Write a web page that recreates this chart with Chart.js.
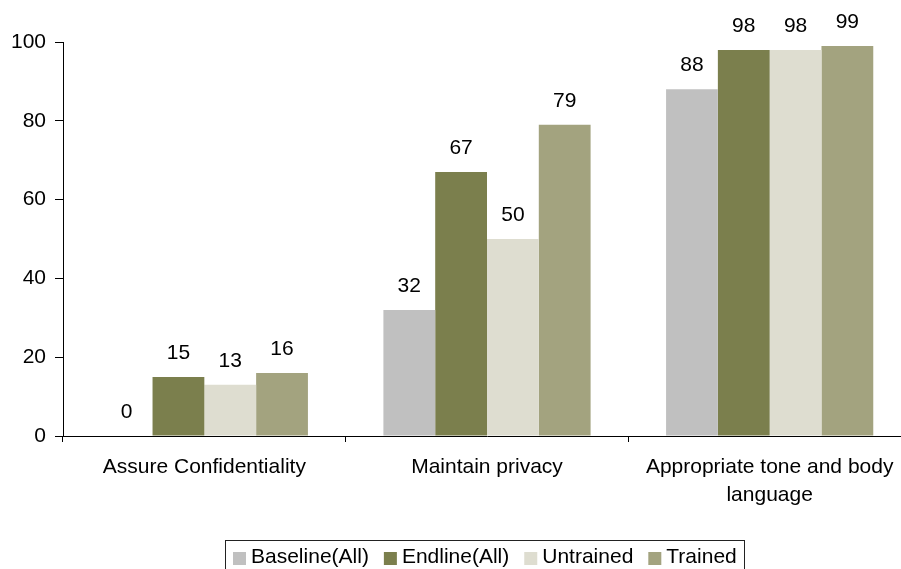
<!DOCTYPE html>
<html>
<head>
<meta charset="utf-8">
<script src="https://cdn.jsdelivr.net/npm/chart.js@4/dist/chart.umd.min.js"></script>
<style>
  html, body { margin: 0; padding: 0; background: #fff; overflow: hidden; }
  #wrap { width: 901px; height: 569px; overflow: hidden; }
</style>
</head>
<body>
<div id="wrap"><canvas id="myChart" width="911" height="569"></canvas></div>
<script>
// --- Data ---
const categories = [
    'Assure Confidentiality',
    'Maintain privacy',
    ['Appropriate tone and body', 'language']
];
const seriesNames = ['Baseline(All)', 'Endline(All)', 'Untrained', 'Trained'];
const baselineAll = [0, 32, 88];
const endlineAll = [15, 67, 98];
const untrained = [13, 50, 98];
const trained = [16, 79, 99];
const yTicks = [0, 20, 40, 60, 80, 100];

const seriesColors = ['#C0C0C0', '#7B7F4D', '#DEDDD0', '#A3A37F'];
const fontFamily = '"Liberation Sans", Arial, sans-serif';

// value labels above each bar
const valueLabels = {
    id: 'valueLabels',
    afterDatasetsDraw(chart) {
        const ctx = chart.ctx;
        ctx.save();
        ctx.font = '21px ' + fontFamily;
        ctx.fillStyle = '#000';
        ctx.textAlign = 'center';
        ctx.textBaseline = 'middle';
        chart.data.datasets.forEach((ds, i) => {
            chart.getDatasetMeta(i).data.forEach((bar, j) => {
                ctx.fillText(String(ds.data[j]), bar.x, bar.y - 24);
            });
        });
        ctx.restore();
    }
};

// boxed legend row under the axis labels
const boxedLegend = {
    id: 'boxedLegend',
    afterDraw(chart) {
        const ctx = chart.ctx;
        const box = 13, gap = 5, itemGap = 15;
        const centerX = 484.5, midY = 557, frameTop = 540.5;
        ctx.save();
        ctx.font = '21px ' + fontFamily;
        ctx.textBaseline = 'middle';
        ctx.textAlign = 'left';
        const items = chart.data.datasets.map(ds => ({
            text: ds.label,
            color: ds.backgroundColor,
            w: box + gap + ctx.measureText(ds.label).width
        }));
        const total = items.reduce((s, it) => s + it.w, 0) + itemGap * (items.length - 1);
        let x = Math.round(centerX - total / 2);
        const left = x - 8;
        items.forEach(it => {
            ctx.fillStyle = it.color;
            ctx.fillRect(x, midY - 5, box, box);
            ctx.fillStyle = '#000';
            ctx.fillText(it.text, x + box + gap, midY);
            x += it.w + itemGap;
        });
        const right = x - itemGap + 7;
        ctx.strokeStyle = '#222';
        ctx.lineWidth = 1;
        ctx.strokeRect(left + 0.5, frameTop, Math.round(right - left), 40);
        ctx.restore();
    }
};

const datasetValues = [baselineAll, endlineAll, untrained, trained];

new Chart(document.getElementById('myChart').getContext('2d'), {
    type: 'bar',
    data: {
        labels: categories,
        datasets: seriesNames.map((name, i) => ({
            label: name,
            data: datasetValues[i],
            backgroundColor: seriesColors[i],
            borderWidth: 0,
            categoryPercentage: 0.733,
            barPercentage: 1.0
        }))
    },
    options: {
        responsive: false,
        animation: false,
        devicePixelRatio: 1,
        layout: { padding: { top: 42, left: 0, right: 0, bottom: 0 } },
        plugins: {
            tooltip: { enabled: false },
            legend: { display: false }
        },
        scales: {
            x: {
                grid: {
                    display: true,
                    drawOnChartArea: false,
                    drawTicks: true,
                    tickLength: 6,
                    offset: true,
                    color: '#000'
                },
                border: { color: '#000', width: 1 },
                ticks: {
                    color: '#000',
                    padding: 11,
                    maxRotation: 0,
                    font: { family: fontFamily, size: 21, lineHeight: 1.35 }
                },
                afterFit(scale) { scale.height = 133; }
            },
            y: {
                min: 0,
                max: 100,
                afterBuildTicks(scale) { scale.ticks = yTicks.map(v => ({ value: v })); },
                grid: {
                    drawOnChartArea: false,
                    drawTicks: true,
                    tickLength: 8,
                    color: '#000'
                },
                border: { color: '#000', width: 1 },
                ticks: {
                    color: '#000',
                    padding: 9,
                    font: { family: fontFamily, size: 21 }
                },
                afterFit(scale) { scale.width = 63; }
            }
        }
    },
    plugins: [valueLabels, boxedLegend]
});
</script>
</body>
</html>
